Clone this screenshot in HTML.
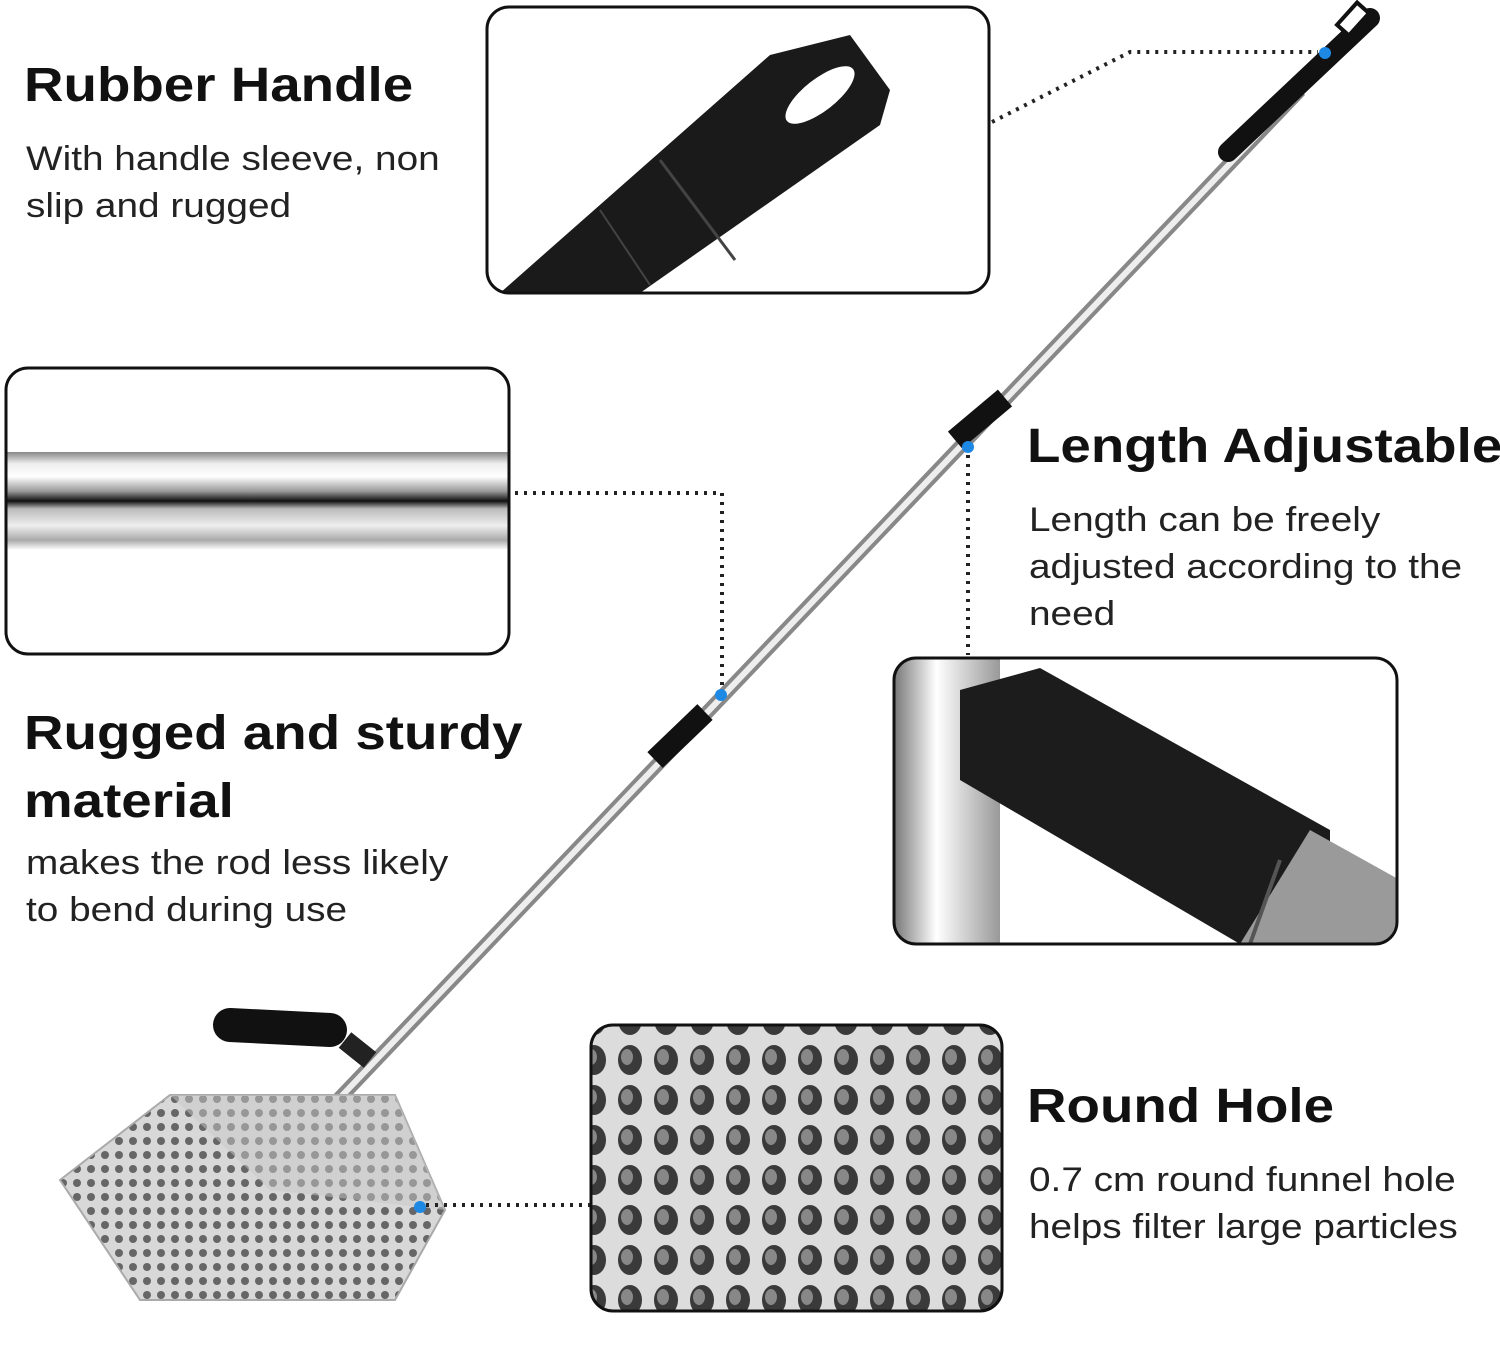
<!DOCTYPE html>
<html><head><meta charset="utf-8"><style>
html,body{margin:0;padding:0;background:#fff;}
body{width:1500px;height:1349px;position:relative;overflow:hidden;font-family:"Liberation Sans",Arial,sans-serif;color:#111;}
.t{position:absolute;white-space:nowrap;transform:scaleX(1.14);transform-origin:0 0;}
.h{font-weight:bold;font-size:48px;}
.p{font-size:34px;line-height:47px;color:#222;}
</style></head><body>
<svg width="1500" height="1349" style="position:absolute;left:0;top:0">
<defs>
<linearGradient id="rodv" x1="0" y1="0" x2="0" y2="1">
<stop offset="0" stop-color="#888"/><stop offset=".12" stop-color="#eee"/><stop offset=".25" stop-color="#fff"/><stop offset=".4" stop-color="#999"/><stop offset=".5" stop-color="#111"/><stop offset=".58" stop-color="#bbb"/><stop offset=".75" stop-color="#eee"/><stop offset=".9" stop-color="#aaa"/><stop offset="1" stop-color="#fff"/></linearGradient>
<pattern id="holes" width="14" height="14" patternUnits="userSpaceOnUse"><rect width="14" height="14" fill="#d8d8d8"/><circle cx="7" cy="7" r="4" fill="#666"/></pattern>
<pattern id="bigholes" width="36" height="40" patternUnits="userSpaceOnUse"><rect width="36" height="40" fill="#dcdcdc"/><ellipse cx="18" cy="20" rx="12" ry="15" fill="#3a3a3a"/><ellipse cx="15" cy="17" rx="6" ry="8" fill="#888"/></pattern>
<linearGradient id="sil" x1="0" y1="0" x2="1" y2="0"><stop offset="0" stop-color="#777"/><stop offset=".4" stop-color="#fff"/><stop offset="1" stop-color="#999"/></linearGradient>
<clipPath id="c1"><rect x="487" y="7" width="502" height="286" rx="22"/></clipPath>
<clipPath id="c2"><rect x="6" y="368" width="503" height="286" rx="22"/></clipPath>
<clipPath id="c3"><rect x="894" y="658" width="503" height="286" rx="22"/></clipPath>
<clipPath id="c4"><rect x="591" y="1025" width="411" height="286" rx="22"/></clipPath>
</defs>
<g clip-path="url(#c1)">
<rect x="487" y="7" width="502" height="286" fill="#fff"/>
<polygon points="500,293 770,55 850,35 890,90 880,125 640,293" fill="#1a1a1a"/>
<ellipse cx="820" cy="95" rx="42" ry="16" transform="rotate(-38 820 95)" fill="#fff"/>
<line x1="660" y1="160" x2="735" y2="260" stroke="#444" stroke-width="3"/>
<line x1="600" y1="210" x2="650" y2="285" stroke="#444" stroke-width="2"/>
</g>
<rect x="487" y="7" width="502" height="286" rx="22" fill="none" stroke="#111" stroke-width="3"/>
<g clip-path="url(#c2)">
<rect x="6" y="368" width="503" height="286" fill="#fff"/>
<rect x="6" y="452" width="503" height="98" fill="url(#rodv)"/>
</g>
<rect x="6" y="368" width="503" height="286" rx="22" fill="none" stroke="#111" stroke-width="3"/>
<g clip-path="url(#c3)">
<rect x="894" y="658" width="503" height="286" fill="#fff"/>
<polygon points="894,658 1000,658 1000,944 894,944" fill="url(#sil)"/>
<polygon points="960,690 1040,668 1330,830 1330,944 1240,944 960,780" fill="#1c1c1c"/>
<polygon points="1310,830 1400,880 1400,944 1240,944" fill="#9a9a9a"/>
<line x1="1280" y1="860" x2="1250" y2="944" stroke="#555" stroke-width="4"/>
</g>
<rect x="894" y="658" width="503" height="286" rx="22" fill="none" stroke="#111" stroke-width="3"/>
<g clip-path="url(#c4)">
<rect x="591" y="1025" width="411" height="286" fill="url(#bigholes)"/>
</g>
<rect x="591" y="1025" width="411" height="286" rx="22" fill="none" stroke="#111" stroke-width="3"/>
<line x1="1300" y1="90" x2="295" y2="1145" stroke="#888" stroke-width="14"/>
<line x1="1300" y1="90" x2="295" y2="1145" stroke="#eee" stroke-width="6"/>
<line x1="1228" y1="152" x2="1370" y2="18" stroke="#111" stroke-width="20" stroke-linecap="round"/>
<rect x="1345" y="4" width="16" height="30" transform="rotate(42 1353 19)" fill="#fff" stroke="#111" stroke-width="4"/>
<line x1="955" y1="440" x2="1005" y2="398" stroke="#111" stroke-width="22"/>
<line x1="655" y1="760" x2="705" y2="712" stroke="#111" stroke-width="22"/>
<polygon points="60,1180 170,1095 395,1095 445,1210 395,1300 140,1300" fill="url(#holes)" stroke="#aaa" stroke-width="2"/>
<polygon points="170,1095 395,1095 445,1210 270,1190" fill="#c8c8c8" opacity=".5"/>
<line x1="330" y1="1030" x2="230" y2="1025" stroke="#111" stroke-width="34" stroke-linecap="round"/>
<line x1="345" y1="1040" x2="370" y2="1060" stroke="#222" stroke-width="20"/>
<g fill="none" stroke="#222" stroke-width="4" stroke-dasharray="3 6">
<polyline points="992,122 1130,52 1318,52"/>
<polyline points="515,493 722,493 722,690"/>
<polyline points="968,455 968,655"/>
<polyline points="426,1205 590,1205"/>
</g>
<g fill="#1e88e5"><circle cx="1325" cy="53" r="6"/><circle cx="968" cy="447" r="6"/><circle cx="721" cy="695" r="6"/><circle cx="420" cy="1207" r="6"/></g>
</svg>
<div class="t h" style="left:24px;top:58px">Rubber Handle</div>
<div class="t p" style="left:26px;top:136px">With handle sleeve, non<br>slip and rugged</div>
<div class="t h" style="left:24px;top:706px">Rugged and sturdy</div>
<div class="t h" style="left:24px;top:774px">material</div>
<div class="t p" style="left:26px;top:840px">makes the rod less likely<br>to bend during use</div>
<div class="t h" style="left:1027px;top:419px">Length Adjustable</div>
<div class="t p" style="left:1029px;top:497px">Length can be freely<br>adjusted according to the<br>need</div>
<div class="t h" style="left:1027px;top:1079px">Round Hole</div>
<div class="t p" style="left:1029px;top:1157px">0.7 cm round funnel hole<br>helps filter large particles</div>
</body></html>
